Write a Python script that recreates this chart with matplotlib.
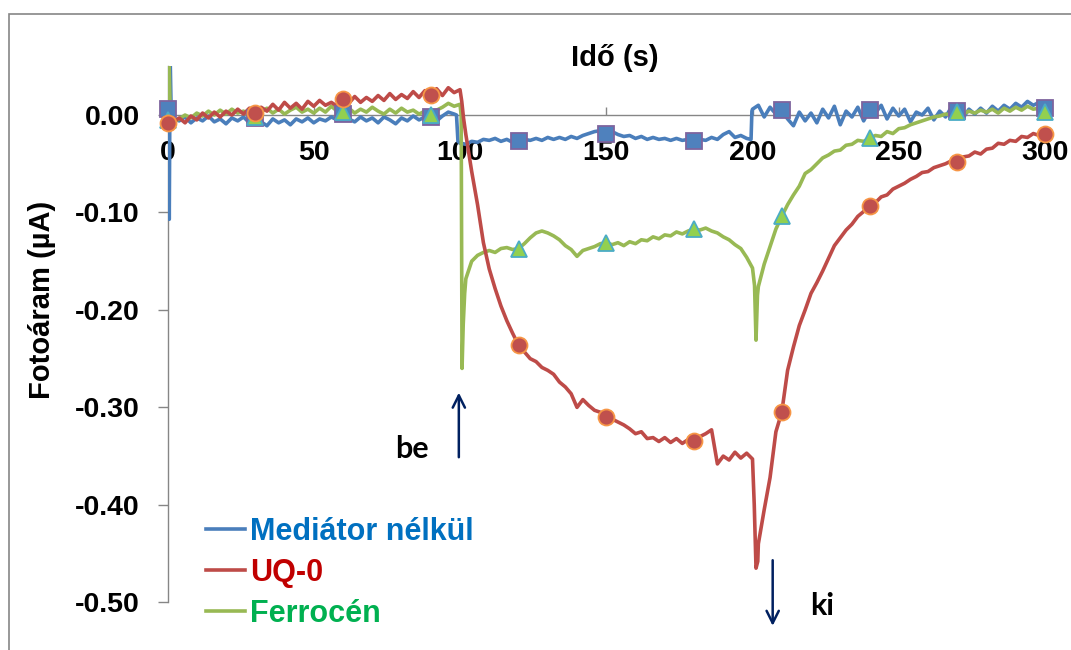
import matplotlib.pyplot as plt
import numpy as np
from matplotlib.patches import Rectangle

plt.rcParams['font.family'] = ['Liberation Sans', 'DejaVu Sans']
plt.rcParams['font.weight'] = 'bold'
plt.rcParams['axes.unicode_minus'] = False

# mérési idő (s), 2 s-os lépés
t_base = np.arange(0, 301, 2)

# Mediátor nélkül
blue_base = [
    0.006, -0.004, -0.006, -0.002, -0.008, -0.003, -0.006, -0.001, -0.007, -0.004,
    -0.009, -0.003, -0.006, -0.002, -0.008, -0.003, -0.007, -0.011, -0.004, -0.008,
    -0.005, -0.010, -0.004, -0.007, -0.003, -0.008, -0.004, -0.006, -0.002, -0.005,
    0.001, -0.004, -0.007, -0.002, -0.006, -0.003, -0.008, -0.002, -0.005, -0.009,
    -0.003, -0.006, -0.001, -0.005, -0.002, -0.002, -0.006, -0.001, 0.003, 0.001,
    -0.029, -0.030, -0.027, -0.028, -0.025, -0.026, -0.024, -0.027, -0.025, -0.028,
    -0.027, -0.025, -0.026, -0.024, -0.026, -0.023, -0.025, -0.023, -0.025, -0.022,
    -0.024, -0.021, -0.019, -0.017, -0.016, -0.019, -0.017, -0.020, -0.022, -0.021,
    -0.024, -0.022, -0.025, -0.023, -0.025, -0.024, -0.026, -0.024, -0.026, -0.025,
    -0.027, -0.025, -0.026, -0.023, -0.025, -0.020, -0.017, -0.023, -0.021, -0.024,
    0.006, 0.010, -0.002, 0.008, 0.001, 0.005, -0.004, -0.011, 0.003, -0.006,
    0.002, -0.008, 0.006, -0.003, 0.009, -0.010, 0.004, -0.002, 0.008, -0.006,
    0.005, 0.002, 0.010, -0.004, 0.007, -0.001, 0.006, -0.007, 0.003, 0.000,
    0.007, -0.005, 0.004, -0.002, 0.008, 0.004, -0.003, 0.006, 0.001, 0.007,
    0.002, 0.009, 0.004, 0.010, 0.006, 0.012, 0.008, 0.014, 0.010, 0.013,
    0.007,
]
blue_extra_t = [0.3, 0.6, 0.9, 1.3, 98.8, 99.3, 199.5, 199.8]
blue_extra_v = [0.07, -0.107, 0.06, -0.005, 0.000, -0.027, -0.025, 0.004]

# UQ-0
red_base = [
    -0.008, -0.007, -0.003, -0.008, -0.001, -0.005, 0.002, -0.003, 0.003, -0.002,
    0.004, 0.000, 0.006, 0.001, 0.007, 0.002, 0.008, 0.004, 0.011, 0.005,
    0.013, 0.007, 0.012, 0.006, 0.014, 0.009, 0.015, 0.010, 0.013, 0.009,
    0.016, 0.012, 0.019, 0.013, 0.018, 0.014, 0.020, 0.015, 0.022, 0.016,
    0.021, 0.017, 0.024, 0.018, 0.025, 0.021, 0.027, 0.020, 0.028, 0.023,
    0.026, -0.020, -0.058, -0.092, -0.131, -0.158, -0.178, -0.196, -0.211, -0.224,
    -0.236, -0.243, -0.250, -0.253, -0.259, -0.262, -0.266, -0.274, -0.279, -0.286,
    -0.300, -0.292, -0.298, -0.303, -0.305, -0.310, -0.312, -0.315, -0.318, -0.322,
    -0.327, -0.325, -0.332, -0.331, -0.335, -0.331, -0.336, -0.332, -0.337, -0.333,
    -0.334, -0.330, -0.327, -0.323, -0.358, -0.350, -0.354, -0.346, -0.352, -0.347,
    -0.353, -0.440, -0.405, -0.372, -0.325, -0.305, -0.262, -0.238, -0.216, -0.200,
    -0.183, -0.172, -0.160, -0.147, -0.134, -0.126, -0.118, -0.112, -0.104, -0.099,
    -0.093, -0.090, -0.084, -0.082, -0.076, -0.073, -0.070, -0.066, -0.063, -0.059,
    -0.058, -0.054, -0.052, -0.050, -0.047, -0.048, -0.043, -0.042, -0.038, -0.040,
    -0.035, -0.034, -0.029, -0.030, -0.026, -0.027, -0.022, -0.023, -0.019, -0.021,
    -0.019,
]
red_extra_t = [100.6, 101.2, 200.6, 201.2, 201.8]
red_extra_v = [0.014, -0.003, -0.400, -0.465, -0.458]

# Ferrocén
green_base = [
    -0.005, -0.007, -0.004, 0.000, -0.003, 0.002, -0.001, 0.004, 0.000, 0.005,
    0.001, 0.006, 0.002, 0.004, -0.001, -0.002, 0.003, 0.007, 0.002, 0.006,
    0.001, 0.005, 0.008, 0.003, 0.006, 0.002, 0.007, 0.003, 0.009, 0.004,
    0.003, 0.007, 0.002, 0.006, 0.003, 0.008, 0.004, 0.001, 0.006, 0.002,
    0.007, 0.003, 0.005, 0.001, 0.004, 0.000, 0.005, 0.008, 0.012, 0.009,
    0.011, -0.168, -0.150, -0.144, -0.141, -0.139, -0.141, -0.137, -0.136, -0.138,
    -0.137, -0.132, -0.126, -0.121, -0.119, -0.121, -0.124, -0.128, -0.134, -0.138,
    -0.145, -0.139, -0.137, -0.135, -0.132, -0.131, -0.133, -0.131, -0.134, -0.130,
    -0.132, -0.128, -0.129, -0.125, -0.127, -0.123, -0.124, -0.120, -0.122, -0.119,
    -0.117, -0.118, -0.116, -0.119, -0.121, -0.125, -0.128, -0.133, -0.137, -0.146,
    -0.157, -0.176, -0.153, -0.135, -0.117, -0.104, -0.092, -0.082, -0.073, -0.060,
    -0.056, -0.050, -0.044, -0.041, -0.037, -0.036, -0.031, -0.030, -0.026, -0.027,
    -0.024, -0.021, -0.022, -0.017, -0.019, -0.014, -0.013, -0.010, -0.008, -0.006,
    -0.004, -0.002, -0.001, 0.001, 0.000, 0.003, 0.001, 0.004, 0.002, 0.005,
    0.003, 0.006, 0.002, 0.007, 0.004, 0.008, 0.005, 0.009, 0.006, 0.007,
    0.003,
]
green_extra_t = [0.4, 1.0, 100.4, 100.7, 101.1, 101.6, 200.7, 201.2, 201.7]
green_extra_v = [0.07, -0.004, 0.000, -0.260, -0.215, -0.183, -0.175, -0.231, -0.185]

labels = ['Mediátor nélkül', 'UQ-0', 'Ferrocén']
x_ticks = [0, 50, 100, 150, 200, 250, 300]
y_ticks = [-0.50, -0.40, -0.30, -0.20, -0.10, 0.00]


def merge(values, extra_t, extra_v):
    t = np.concatenate([t_base, extra_t])
    v = np.concatenate([values, extra_v])
    order = np.argsort(t)
    return t[order], v[order]


fig = plt.figure(figsize=(10.71, 6.5), dpi=100)
ax = fig.add_axes([167.5 / 1071, 47.7 / 650, 877.5 / 1071, 536 / 650])

series = [
    (blue_base, blue_extra_t, blue_extra_v, '#4A7EBB', 's', '#4F81BD', '#7E649E'),
    (green_base, green_extra_t, green_extra_v, '#98B954', '^', '#92D050', '#4BACC6'),
    (red_base, red_extra_t, red_extra_v, '#BE4B48', 'o', '#C0504D', '#F79646'),
]
names = [labels[0], labels[2], labels[1]]
handles = {}
for (base, et, ev, col, mk, mfc, mec), name in zip(series, names):
    t, v = merge(base, et, ev)
    line, = ax.plot(t, v, color=col, lw=2.6, zorder=3, label=name)
    handles[name] = line
    # jelölők 30 s-onként
    ax.plot(t_base[::15], np.array(base)[::15], ls='none', marker=mk, ms=11.5,
            mfc=mfc, mec=mec, mew=1.3, zorder=4, clip_on=False)

ax.set_xlim(0, 300)
ax.set_ylim(-0.50, 0.05)
ax.set_xticks(x_ticks)
ax.set_yticks(y_ticks)
ax.set_yticklabels([f'{y:.2f}' for y in y_ticks])

for side in ['top', 'right']:
    ax.spines[side].set_visible(False)
ax.spines['bottom'].set_position(('data', 0))
for side in ['left', 'bottom']:
    ax.spines[side].set_color('#868686')
    ax.spines[side].set_linewidth(1.0)
ax.tick_params(axis='x', direction='in', length=6, width=1, color='#868686',
               pad=18, labelsize=20.5)
ax.tick_params(axis='y', direction='out', length=7, width=1, color='#868686',
               pad=13, labelsize=20.5)

fig.text(614.5 / 1071, 1 - 58 / 650, 'Idő (s)', ha='center', va='center',
         fontsize=21, fontweight='bold')
fig.text(42 / 1071, 1 - 299.5 / 650, 'Fotoáram (µA)', rotation=90,
         ha='center', va='center', fontsize=21, fontweight='bold')

# be / ki jelzések
arrow = dict(arrowstyle='->', color='#002060', lw=1.8, mutation_scale=22)
ax.annotate('', xy=(99.6, -0.282), xytext=(99.6, -0.354), arrowprops=arrow,
            annotation_clip=False)
ax.annotate('', xy=(206.9, -0.527), xytext=(206.9, -0.454), arrowprops=arrow,
            annotation_clip=False)
ax.text(83.4, -0.352, 'be', family='Lato', fontsize=22, fontweight='bold',
        ha='center', va='baseline')
ax.text(223.8, -0.513, 'ki', family='Lato', fontsize=22, fontweight='bold',
        ha='center', va='baseline', clip_on=False)

fig.legend(handles=[handles[n] for n in labels], labels=labels,
           loc='upper left', bbox_to_anchor=(206 / 1071, 1 - 517 / 650),
           frameon=False, fontsize=22, handlelength=1.28, handletextpad=0.15,
           labelspacing=0.36, borderpad=0, borderaxespad=0,
           labelcolor=['#0070C0', '#C00000', '#00B050'])

fig.add_artist(Rectangle((8.6 / 1071, -0.1), 1.2, 1.1 - 14 / 650,
                         transform=fig.transFigure, fill=False,
                         ec='#868686', lw=1.2))

fig.savefig('out.png', dpi=100)
